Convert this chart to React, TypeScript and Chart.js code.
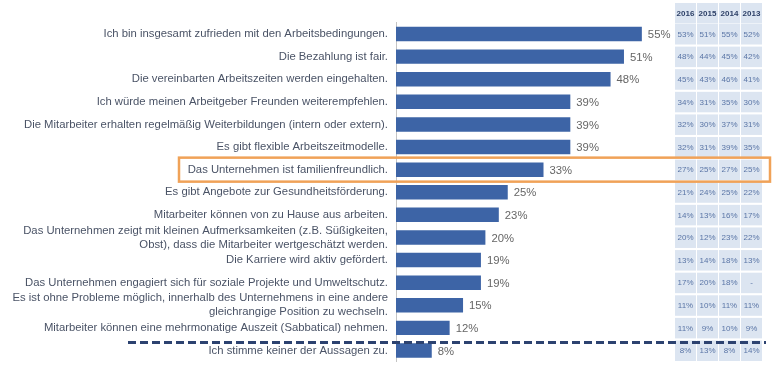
import React, { useEffect, useRef } from 'react';
import { Chart, registerables } from 'chart.js';

Chart.register(...registerables);

const statements: (string | string[])[] = [
  'Ich bin insgesamt zufrieden mit den Arbeitsbedingungen.',
  'Die Bezahlung ist fair.',
  'Die vereinbarten Arbeitszeiten werden eingehalten.',
  'Ich würde meinen Arbeitgeber Freunden weiterempfehlen.',
  'Die Mitarbeiter erhalten regelmäßig Weiterbildungen (intern oder extern).',
  'Es gibt flexible Arbeitszeitmodelle.',
  'Das Unternehmen ist familienfreundlich.',
  'Es gibt Angebote zur Gesundheitsförderung.',
  'Mitarbeiter können von zu Hause aus arbeiten.',
  ['Das Unternehmen zeigt mit kleinen Aufmerksamkeiten (z.B. Süßigkeiten,', 'Obst), dass die Mitarbeiter wertgeschätzt werden.'],
  'Die Karriere wird aktiv gefördert.',
  'Das Unternehmen engagiert sich für soziale Projekte und Umweltschutz.',
  ['Es ist ohne Probleme möglich, innerhalb des Unternehmens in eine andere', 'gleichrangige Position zu wechseln.'],
  'Mitarbeiter können eine mehrmonatige Auszeit (Sabbatical) nehmen.',
  'Ich stimme keiner der Aussagen zu.',
];

const current = [55, 51, 48, 39, 39, 39, 33, 25, 23, 20, 19, 19, 15, 12, 8];

const years = ['2016', '2015', '2014', '2013'];
const v2016 = [53, 48, 45, 34, 32, 32, 27, 21, 14, 20, 13, 17, 11, 11, 8];
const v2015 = [51, 44, 43, 31, 30, 31, 25, 24, 13, 12, 14, 20, 10, 9, 13];
const v2014 = [55, 45, 46, 35, 37, 39, 27, 25, 16, 23, 18, 18, 11, 10, 8];
const v2013: (number | null)[] = [52, 42, 41, 30, 31, 35, 25, 22, 17, 22, 13, null, 11, 9, 14];

const highlightIndex = 6;
const separatorIndex = 14;

const FONT = "'Liberation Sans', Arial, sans-serif";

export default function App() {
  const ref = useRef<HTMLCanvasElement | null>(null);

  useEffect(() => {
    if (!ref.current) return;
    const history = [v2016, v2015, v2014, v2013];

    const decorations = {
      id: 'decorations',
      afterDatasetsDraw(chart: any) {
        const ctx = chart.ctx;
        const meta = chart.getDatasetMeta(0);
        ctx.save();
        ctx.font = `11.3px ${FONT}`;
        ctx.fillStyle = '#666666';
        ctx.textAlign = 'left';
        ctx.textBaseline = 'middle';
        meta.data.forEach((bar: any, i: number) => {
          ctx.fillText(`${current[i]}%`, bar.x + 6, bar.y + 1);
        });
        ctx.restore();
      },
      afterDraw(chart: any) {
        const ctx = chart.ctx;
        const yScale = chart.scales.y;
        const colLeft = [675, 697, 719, 741];
        const colW = 21;
        ctx.save();
        // table
        const y0 = yScale.getPixelForValue(0);
        const drawRow = (cy: number, texts: string[], header: boolean) => {
          texts.forEach((t, c) => {
            ctx.fillStyle = '#dce5f1';
            ctx.fillRect(colLeft[c], cy - 10, colW, 20.5);
            ctx.fillStyle = header ? '#2e4168' : '#5a75a6';
            ctx.font = `${header ? 'bold ' : ''}8px ${FONT}`;
            ctx.textAlign = 'center';
            ctx.textBaseline = 'middle';
            ctx.fillText(t, colLeft[c] + colW / 2, cy + 0.5);
          });
        };
        drawRow(y0 - 21, years, true);
        for (let i = 0; i < current.length; i++) {
          const cy = yScale.getPixelForValue(i);
          drawRow(
            cy,
            history.map((arr) => (arr[i] == null ? '-' : `${arr[i]}%`)),
            false
          );
        }
        // highlight box
        const hy = yScale.getPixelForValue(highlightIndex);
        ctx.strokeStyle = '#f0a258';
        ctx.lineWidth = 2.5;
        ctx.strokeRect(179, hy - 12, 591, 24);
        // dashed separator
        const sy = yScale.getPixelForValue(separatorIndex) - 8;
        ctx.strokeStyle = '#2c4270';
        ctx.lineWidth = 3;
        ctx.setLineDash([8, 4]);
        ctx.beginPath();
        ctx.moveTo(128, sy);
        ctx.lineTo(766, sy);
        ctx.stroke();
        ctx.restore();
      },
    };

    const chart = new Chart(ref.current, {
      type: 'bar',
      data: {
        labels: statements,
        datasets: [
          {
            data: current,
            backgroundColor: '#3d64a6',
            borderWidth: 0,
            barPercentage: 0.64,
            categoryPercentage: 1,
          },
        ],
      },
      options: {
        indexAxis: 'y',
        animation: false,
        responsive: false,
        layout: { padding: { top: 22.7, bottom: 6.2, left: 0, right: 112.8 } },
        plugins: { legend: { display: false }, tooltip: { enabled: false } },
        scales: {
          x: { display: false, min: 0, max: 60 },
          y: {
            afterFit: (scale: any) => {
              scale.width = 396;
              scale.paddingTop = 0;
              scale.paddingBottom = 0;
            },
            grid: { display: false, drawTicks: false },
            border: { display: true, color: '#c4c4c4', width: 1 },
            ticks: {
              autoSkip: false,
              padding: 8,
              color: '#4a5366',
              font: { family: FONT, size: 11.3, lineHeight: 1.25 },
            },
          },
        },
      },
      plugins: [decorations],
    });
    return () => chart.destroy();
  }, []);

  return (
    <div style={{ position: 'absolute', left: 0, top: 0, width: 777, height: 368, background: '#fff' }}>
      <canvas ref={ref} width={777} height={368} style={{ display: 'block' }} />
    </div>
  );
}
